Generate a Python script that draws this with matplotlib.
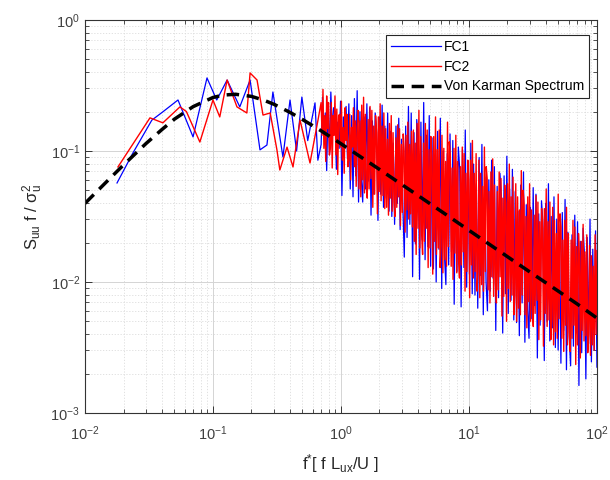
import numpy as np
import matplotlib
matplotlib.use('Agg')
import matplotlib.pyplot as plt

# --- data (log-log spectrum) ---
# low-frequency part, individual peaks
fc1_lo_f = [0.0178, 0.0237, 0.0333, 0.0406, 0.0533, 0.0699, 0.0898, 0.107, 0.129, 0.162,
            0.195, 0.233, 0.264, 0.294, 0.352, 0.40, 0.45, 0.495, 0.55, 0.627, 0.66]
fc1_lo_s = [0.057, 0.0966, 0.172, 0.199, 0.245, 0.128, 0.361, 0.245, 0.348, 0.217,
            0.348, 0.102, 0.111, 0.282, 0.090, 0.245, 0.100, 0.258, 0.120, 0.233, 0.085]

fc2_lo_f = [0.0181, 0.0322, 0.0406, 0.0552, 0.062, 0.079, 0.100, 0.113, 0.129, 0.154, 0.184,
            0.195, 0.221, 0.246, 0.28, 0.316, 0.333, 0.379, 0.422, 0.479, 0.573, 0.66]
fc2_lo_s = [0.0755, 0.179, 0.164, 0.217, 0.200, 0.117, 0.245, 0.182, 0.348, 0.217, 0.195,
            0.394, 0.348, 0.188, 0.195, 0.102, 0.0716, 0.107, 0.0755, 0.172, 0.081, 0.170]

# dense part (f = 0.7 ... 100, log-spaced bins), values as log10(S f / sigma^2)
fc1_hi_log = [
    -0.95, -0.59, -0.87, -0.71, -1.15, -0.63, -1.03, -0.55, -0.83, -0.67,
    -0.70, -1.14, -0.78, -0.98, -0.62, -1.34, -0.74, -0.90, -0.66, -1.06,
    -0.64, -1.29, -0.73, -1.35, -0.60, -1.19, -0.54, -1.39, -0.70, -1.22,
    -1.39, -0.74, -1.29, -0.64, -1.23, -0.67, -1.49, -0.77, -1.33, -0.71,
    -0.84, -1.53, -0.74, -1.33, -0.65, -1.43, -0.81, -1.36, -0.71, -1.46,
    -0.85, -1.50, -0.94, -1.56, -0.81, -1.40, -0.75, -1.60, -0.91, -1.43,
    -1.81, -0.81, -1.66, -0.66, -1.56, -0.71, -1.96, -0.86, -1.71, -0.76,
    -0.93, -1.98, -0.78, -1.68, -0.63, -1.83, -0.88, -1.73, -0.73, -1.88,
    -0.90, -1.90, -1.05, -2.00, -0.85, -1.75, -0.75, -2.05, -1.00, -1.80,
    -2.02, -1.02, -1.87, -0.87, -1.77, -0.92, -2.17, -1.07, -1.92, -0.97,
    -1.14, -2.19, -0.99, -1.89, -0.84, -2.04, -1.09, -1.94, -0.94, -2.09,
    -1.10, -2.10, -1.25, -2.20, -1.05, -1.95, -0.95, -2.25, -1.20, -2.00,
    -2.22, -1.22, -2.07, -1.07, -1.97, -1.12, -2.37, -1.27, -2.12, -1.17,
    -1.34, -2.39, -1.19, -2.09, -1.04, -2.24, -1.29, -2.14, -1.14, -2.29,
    -1.31, -2.31, -1.46, -2.41, -1.26, -2.16, -1.16, -2.46, -1.41, -2.21,
    -2.43, -1.43, -2.28, -1.28, -2.18, -1.33, -2.58, -1.48, -2.33, -1.38,
    -1.55, -2.60, -1.40, -2.30, -1.25, -2.45, -1.50, -2.35, -1.35, -2.50,
    -1.52, -2.52, -1.67, -2.62, -1.47, -2.37, -1.37, -2.67, -1.62, -2.42,
    -2.64, -1.64, -2.49, -1.49, -2.39, -1.54, -2.79, -1.69, -2.54, -1.59,
    -1.79, -2.74, -1.66, -2.47, -1.52, -2.61, -1.75, -2.52, -1.61, -2.65,
]
fc2_hi_log = [
    -0.63, -0.88, -0.53, -0.98, -0.73, -1.08, -0.58, -0.83, -0.63, -1.03,
    -0.98, -0.63, -1.13, -0.73, -0.88, -0.58, -1.03, -0.68, -1.18, -0.73,
    -0.72, -0.97, -0.62, -1.07, -0.82, -1.17, -0.67, -0.92, -0.72, -1.12,
    -1.07, -0.72, -1.22, -0.82, -0.97, -0.67, -1.12, -0.77, -1.27, -0.82,
    -0.69, -1.29, -0.77, -1.35, -0.65, -1.22, -0.59, -1.32, -0.72, -1.25,
    -1.36, -0.76, -1.29, -0.66, -1.21, -0.69, -1.43, -0.81, -1.33, -0.73,
    -0.86, -1.48, -0.74, -1.31, -0.64, -1.38, -0.81, -1.34, -0.71, -1.44,
    -0.83, -1.43, -0.91, -1.49, -0.79, -1.36, -0.73, -1.46, -0.86, -1.39,
    -1.50, -0.90, -1.43, -0.80, -1.35, -0.83, -1.57, -0.95, -1.47, -0.87,
    -1.00, -1.62, -0.88, -1.45, -0.78, -1.52, -0.95, -1.48, -0.85, -1.58,
    -0.84, -1.69, -0.94, -1.79, -0.79, -1.59, -0.69, -1.74, -0.89, -1.64,
    -1.79, -0.94, -1.69, -0.79, -1.59, -0.84, -1.89, -0.99, -1.74, -0.89,
    -1.04, -1.94, -0.89, -1.69, -0.74, -1.79, -0.99, -1.74, -0.84, -1.89,
    -1.73, -0.88, -1.93, -0.98, -1.83, -1.08, -1.88, -0.78, -1.73, -0.93,
    -1.03, -1.88, -1.13, -1.98, -0.98, -1.78, -0.88, -1.93, -1.08, -1.83,
    -1.97, -1.12, -1.87, -0.97, -1.77, -1.02, -2.07, -1.17, -1.92, -1.07,
    -1.22, -2.12, -1.07, -1.87, -0.92, -1.97, -1.17, -1.92, -1.02, -2.07,
    -1.92, -1.07, -2.12, -1.17, -2.02, -1.27, -2.07, -0.97, -1.92, -1.12,
    -1.21, -2.06, -1.31, -2.16, -1.16, -1.96, -1.06, -2.11, -1.26, -2.01,
    -2.16, -1.31, -2.06, -1.16, -1.96, -1.21, -2.26, -1.36, -2.11, -1.26,
    -1.40, -2.30, -1.25, -2.05, -1.10, -2.15, -1.35, -2.10, -1.20, -2.25,
    -2.10, -1.25, -2.30, -1.35, -2.20, -1.45, -2.25, -1.15, -2.10, -1.30,
    -1.40, -2.25, -1.50, -2.35, -1.35, -2.15, -1.25, -2.30, -1.45, -2.20,
    -2.34, -1.49, -2.24, -1.34, -2.14, -1.39, -2.44, -1.54, -2.29, -1.44,
    -1.59, -2.49, -1.44, -2.24, -1.29, -2.34, -1.54, -2.29, -1.39, -2.44,
    -2.28, -1.43, -2.48, -1.53, -2.38, -1.63, -2.43, -1.33, -2.28, -1.48,
    -1.58, -2.43, -1.68, -2.53, -1.53, -2.33, -1.43, -2.48, -1.63, -2.38,
    -2.53, -1.68, -2.43, -1.53, -2.33, -1.58, -2.63, -1.73, -2.48, -1.63,
    -1.81, -2.58, -1.69, -2.37, -1.56, -2.45, -1.77, -2.41, -1.64, -2.54,
    -2.40, -1.72, -2.56, -1.80, -2.48, -1.88, -2.52, -1.64, -2.40, -1.76,
]

vk_f = [0.01, 0.015, 0.02, 0.03, 0.04, 0.05, 0.07, 0.1, 0.12, 0.15, 0.2, 0.25, 0.3, 0.4,
        0.5, 0.7, 1, 2, 3, 5, 7, 10, 20, 30, 50, 70, 100]
vk_s = [0.0398, 0.0592, 0.0782, 0.114, 0.146, 0.175, 0.218, 0.256, 0.267, 0.271, 0.261,
        0.244, 0.227, 0.197, 0.174, 0.1425, 0.1136, 0.0723, 0.0553, 0.0394, 0.0315,
        0.0248, 0.0156, 0.0119, 0.0085, 0.0068, 0.0053]

plt.rcParams['font.family'] = ['Liberation Sans', 'DejaVu Sans']
plt.rcParams['mathtext.fontset'] = 'custom'
plt.rcParams['mathtext.rm'] = 'Liberation Sans'
plt.rcParams['mathtext.it'] = 'Liberation Sans:italic'
plt.rcParams['mathtext.default'] = 'regular'

fc1_f = np.concatenate([fc1_lo_f, np.geomspace(0.7, 100, len(fc1_hi_log))])
fc1_s = np.concatenate([fc1_lo_s, 10.0 ** np.array(fc1_hi_log)])
fc2_f = np.concatenate([fc2_lo_f, np.geomspace(0.7, 100, len(fc2_hi_log))])
fc2_s = np.concatenate([fc2_lo_s, 10.0 ** np.array(fc2_hi_log)])

fig = plt.figure(figsize=(6.1, 4.8), dpi=100)
ax = fig.add_axes([0.1393, 0.1396, 0.8393, 0.8188])

ax.plot(fc1_f, fc1_s, color='#0000ff', lw=0.9, label='FC1')
ax.plot(fc2_f, fc2_s, color='#ff0000', lw=1.0, label='FC2')
ax.plot(vk_f, vk_s, color='black', lw=2.5, ls=(0, (3.6, 2.2)), label='Von Karman Spectrum')

ax.set_xscale('log')
ax.set_yscale('log')
ax.set_xlim(1e-2, 1e2)
ax.set_ylim(1e-3, 1e0)

ax.grid(True, which='major', color='#d4d4d4', lw=0.7, ls='-')
ax.grid(True, which='minor', color='#dcdcdc', lw=0.6, ls=(0, (1.5, 2)))
ax.set_axisbelow(True)

ax.tick_params(which='both', direction='in', top=True, right=True, colors='#333333',
               labelsize=10.5, labelcolor='#404040')
ax.tick_params(which='major', length=5, width=0.7)
ax.tick_params(which='minor', length=3, width=0.6)
ax.tick_params(axis='x', which='major', pad=8)
for sp in ax.spines.values():
    sp.set_color('#333333')
    sp.set_linewidth(0.8)

ax.set_xlabel(r'f$^{*}$[ f L$_{ux}$/U ]', fontsize=12, color='#262626', labelpad=7)
ax.set_ylabel(r'S$_{uu}$ f / $\sigma^2_u$', fontsize=12, color='#262626', labelpad=4)

leg = ax.legend(loc='upper right', bbox_to_anchor=(0.984, 0.962), fancybox=False,
                edgecolor='#262626', framealpha=1, fontsize=10, handlelength=3.6,
                handletextpad=0.2, labelspacing=0.42, borderpad=0.35, borderaxespad=0)
leg.get_frame().set_linewidth(0.8)

fig.savefig('out.png', dpi=100)
